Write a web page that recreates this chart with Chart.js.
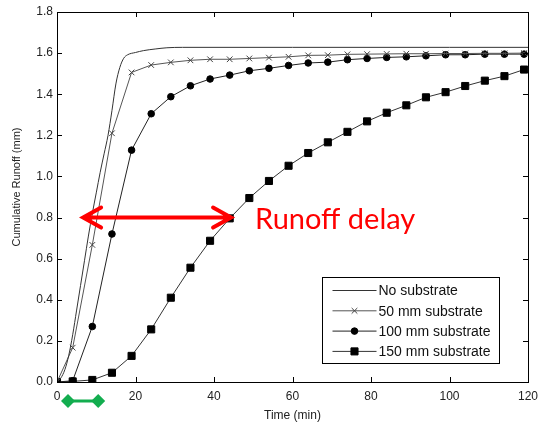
<!DOCTYPE html>
<html>
<head>
<meta charset="utf-8">
<script src="https://cdn.jsdelivr.net/npm/chart.js@4.4.1/dist/chart.umd.min.js"></script>
<style>
  html, body { margin: 0; padding: 0; background: #fff; }
  #wrap { width: 539px; height: 423px; }
</style>
</head>
<body>
<div id="wrap"><canvas id="runoff"></canvas></div>
<script>
// time of the smooth curve (no substrate), min
var tNone = [0, 1, 2, 3, 4, 5, 6, 7, 8, 9, 10, 11, 12, 13, 14, 15, 16, 17, 18, 20, 22, 25, 28, 32, 40, 60, 80, 100, 120];
var noSubstrate = [0, 0.02, 0.06, 0.13, 0.23, 0.35, 0.47, 0.59, 0.71, 0.82, 0.92, 1.02, 1.11, 1.2, 1.32, 1.45, 1.53, 1.575, 1.592, 1.603, 1.612, 1.62, 1.626, 1.628, 1.628, 1.628, 1.628, 1.628, 1.628];

// sampling times of the substrate runs, min
var tSub = [0, 4, 9, 14, 19, 24, 29, 34, 39, 44, 49, 54, 59, 64, 69, 74, 79, 84, 89, 94, 99, 104, 109, 114, 119];
var sub50 = [0, 0.167, 0.667, 1.21, 1.506, 1.542, 1.555, 1.565, 1.57, 1.57, 1.574, 1.578, 1.582, 1.589, 1.59, 1.594, 1.595, 1.596, 1.597, 1.597, 1.598, 1.598, 1.599, 1.599, 1.6];
var sub100 = [0, 0.006, 0.27, 0.72, 1.128, 1.305, 1.388, 1.441, 1.474, 1.493, 1.514, 1.526, 1.54, 1.552, 1.556, 1.568, 1.574, 1.579, 1.582, 1.587, 1.592, 1.592, 1.595, 1.595, 1.595];
var sub150 = [0, 0.003, 0.01, 0.045, 0.127, 0.256, 0.41, 0.556, 0.687, 0.796, 0.895, 0.978, 1.052, 1.114, 1.166, 1.217, 1.268, 1.31, 1.346, 1.385, 1.41, 1.44, 1.466, 1.488, 1.52];

var labels = ["No substrate", "50 mm substrate", "100 mm substrate", "150 mm substrate"];
var xTicks = [0, 20, 40, 60, 80, 100, 120];

// annotation positions (in data units)
var delayFrom = 6.4, delayTo = 44.6, delayLevel = 0.8;
var rainFrom = 2.8, rainTo = 10.5;

function pts(xs, ys) {
  return xs.map(function (x, i) { return { x: x, y: ys[i] }; });
}

var font = "Liberation Sans, Arial, sans-serif";

// MATLAB-like inward ticks on all four sides + box, and the y title
var boxTicks = {
  id: 'boxTicks',
  afterDraw: function (chart) {
    var c = chart.ctx, a = chart.chartArea;
    var xs = chart.scales.x, ys = chart.scales.y;
    c.save();
    c.strokeStyle = '#000';
    c.lineWidth = 1;
    c.beginPath();
    xs.ticks.forEach(function (t) {
      var px = Math.round(xs.getPixelForValue(t.value)) + 0.5;
      c.moveTo(px, a.bottom); c.lineTo(px, a.bottom - 5);
      c.moveTo(px, a.top); c.lineTo(px, a.top + 5);
    });
    ys.ticks.forEach(function (t) {
      var py = Math.round(ys.getPixelForValue(t.value)) + 0.5;
      c.moveTo(a.left, py); c.lineTo(a.left + 5, py);
      c.moveTo(a.right, py); c.lineTo(a.right - 5, py);
    });
    c.stroke();
    c.strokeRect(Math.round(a.left) + 0.5, Math.round(a.top) + 0.5, Math.round(a.right - a.left), Math.round(a.bottom - a.top));

    c.translate(17, 187);
    c.rotate(-Math.PI / 2);
    c.fillStyle = '#222';
    c.font = '11px ' + font;
    c.textAlign = 'center';
    c.textBaseline = 'middle';
    c.fillText('Cumulative Runoff (mm)', 0, 0);
    c.restore();
  }
};

// red delay arrow, text and green rain bar
var notes = {
  id: 'notes',
  afterDraw: function (chart) {
    var c = chart.ctx;
    var xs = chart.scales.x, ys = chart.scales.y;
    var x1 = xs.getPixelForValue(delayFrom), x2 = xs.getPixelForValue(delayTo);
    var y = ys.getPixelForValue(delayLevel);
    c.save();
    c.strokeStyle = '#f00';
    c.lineWidth = 4;
    c.lineCap = 'round';
    c.beginPath();
    c.moveTo(x1 + 2, y); c.lineTo(x2 - 2, y);
    c.moveTo(x1 + 19, y - 10); c.lineTo(x1 + 1, y); c.lineTo(x1 + 19, y + 10);
    c.moveTo(x2 - 19, y - 10); c.lineTo(x2 - 1, y); c.lineTo(x2 - 19, y + 10);
    c.stroke();
    c.fillStyle = '#f00';
    c.font = '29px Lato, "Open Sans", sans-serif';
    c.textBaseline = 'alphabetic';
    c.fillText('Runoff delay', x2 + 23, y + 11);

    // green bar below the axis
    var g1 = xs.getPixelForValue(rainFrom), g2 = xs.getPixelForValue(rainTo);
    var gy = chart.chartArea.bottom + 19;
    c.strokeStyle = '#13ad4f';
    c.fillStyle = '#13ad4f';
    c.lineWidth = 3;
    c.beginPath(); c.moveTo(g1, gy); c.lineTo(g2, gy); c.stroke();
    [g1, g2].forEach(function (gx) {
      c.beginPath();
      c.moveTo(gx - 7, gy); c.lineTo(gx, gy - 7); c.lineTo(gx + 7, gy); c.lineTo(gx, gy + 7);
      c.closePath(); c.fill();
    });
    c.restore();
  }
};

// legend box in the lower right of the axes
var boxLegend = {
  id: 'boxLegend',
  afterDraw: function (chart) {
    var c = chart.ctx, a = chart.chartArea;
    var w = 177, h = 86;
    var bx = Math.round(a.right - 29 - w) + 0.5, by = Math.round(a.bottom - 19 - h) + 0.5;
    c.save();
    c.fillStyle = '#fff';
    c.fillRect(bx, by, w, h);
    c.strokeStyle = '#000';
    c.lineWidth = 1;
    c.strokeRect(bx, by, w, h);
    c.font = '14px ' + font;
    c.textBaseline = 'middle';
    chart.data.datasets.forEach(function (ds, i) {
      var ry = by + 13 + i * 20.3;
      c.strokeStyle = ds.borderColor;
      c.lineWidth = 1;
      c.beginPath(); c.moveTo(bx + 10, ry); c.lineTo(bx + 54, ry); c.stroke();
      if (ds.pointRadius > 0) {
        c.fillStyle = ds.pointBackgroundColor;
        c.strokeStyle = ds.pointBorderColor;
        Chart.helpers.drawPoint(c, {
          pointStyle: ds.pointStyle, radius: ds.pointRadius, borderWidth: 1
        }, bx + 32, ry);
      }
      c.fillStyle = '#111';
      c.fillText(ds.label, bx + 56, ry + 1);
    });
    c.restore();
  }
};

new Chart(document.getElementById('runoff'), {
  type: 'line',
  data: {
    datasets: [
      {
        label: labels[0],
        data: pts(tNone, noSubstrate),
        borderColor: '#333',
        borderWidth: 1,
        pointRadius: 0,
        cubicInterpolationMode: 'monotone'
      },
      {
        label: labels[1],
        data: pts(tSub, sub50),
        borderColor: '#555',
        borderWidth: 1,
        pointStyle: 'crossRot',
        pointRadius: 4,
        pointBorderColor: '#444',
        pointBackgroundColor: '#444',
        pointBorderWidth: 1
      },
      {
        label: labels[2],
        data: pts(tSub, sub100),
        borderColor: '#222',
        borderWidth: 1,
        pointStyle: 'circle',
        pointRadius: 3.3,
        pointBorderColor: '#000',
        pointBackgroundColor: '#000'
      },
      {
        label: labels[3],
        data: pts(tSub, sub150),
        borderColor: '#333',
        borderWidth: 1,
        pointStyle: 'rect',
        pointRadius: 5,
        pointBorderColor: '#000',
        pointBackgroundColor: '#000'
      }
    ]
  },
  options: {
    responsive: true,
    maintainAspectRatio: false,
    animation: false,
    layout: { padding: { left: 0, right: 11, top: 12, bottom: 0 } },
    plugins: {
      legend: { display: false },
      tooltip: { enabled: false }
    },
    scales: {
      x: {
        type: 'linear',
        min: 0,
        max: 120,
        afterBuildTicks: function (s) { s.ticks = xTicks.map(function (v) { return { value: v }; }); },
        afterFit: function (s) { s.height = 41; s.paddingLeft = 0; s.paddingRight = 0; },
        grid: { display: false, drawTicks: false },
        border: { display: false },
        ticks: { color: '#222', font: { family: font, size: 12 }, padding: 7 },
        title: { display: true, text: 'Time (min)', color: '#222', font: { family: font, size: 12 }, padding: { top: 1, bottom: 0 } }
      },
      y: {
        min: 0,
        max: 1.8,
        afterFit: function (s) { s.width = 57; s.paddingTop = 0; s.paddingBottom = 0; },
        grid: { display: false, drawTicks: false },
        border: { display: false },
        ticks: {
          stepSize: 0.2,
          color: '#222',
          font: { family: font, size: 12 },
          padding: 4,
          callback: function (v) { return v.toFixed(1); }
        }
      }
    }
  },
  plugins: [boxTicks, notes, boxLegend]
});
</script>
</body>
</html>
